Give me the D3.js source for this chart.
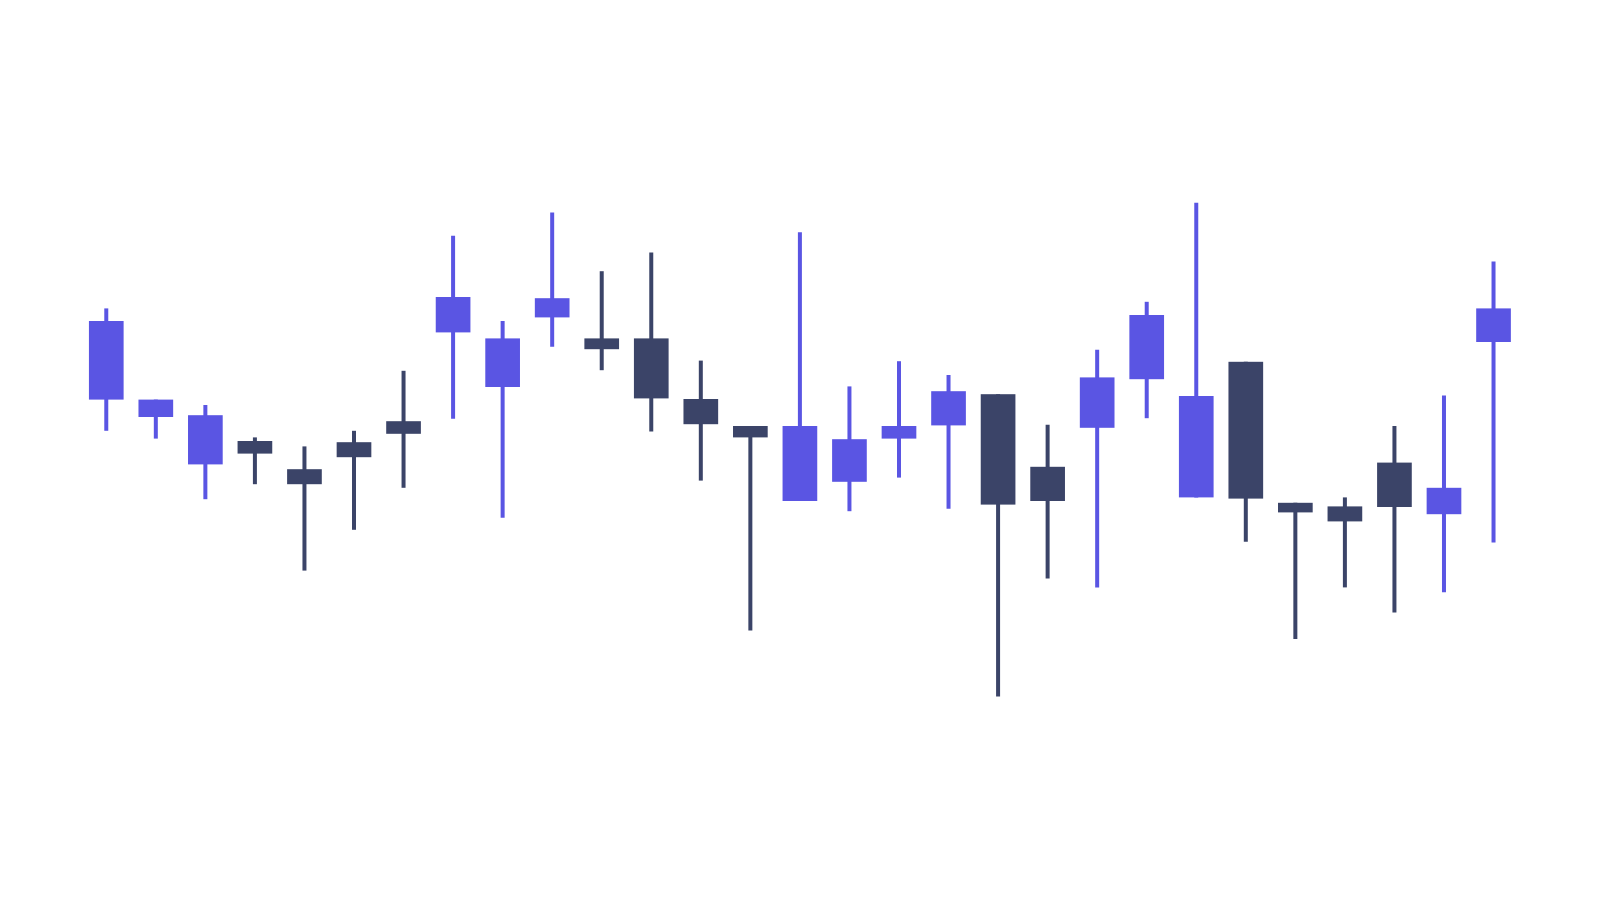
<!DOCTYPE html>
<html lang="en">
<head>
  <meta charset="UTF-8" />
  <title>Candlestick</title>
  <script src="https://d3js.org/d3.v7.min.js"></script>
  <style>
    html, body { margin: 0; padding: 0; background: #fff; }
    svg { display: block; }
  </style>
</head>
<body>
<svg width="1600" height="900"></svg>
<script>
const days  = d3.range(1, 30).map(d => "D" + d);
const open  = [58.4, 55.5, 47.6, 51.5, 46.8, 51.3, 54.8, 69.6, 60.5, 72.1, 68.6, 68.6, 58.5, 54.0, 41.5,
               44.7, 51.9, 54.1, 59.3, 47.2, 53.7, 61.8, 42.1, 64.7, 41.2, 40.6, 47.9, 39.3, 68.0];
const close = [71.5, 58.4, 55.8, 49.4, 44.3, 48.8, 52.7, 75.5, 68.6, 75.3, 66.8, 58.6, 54.3, 52.1, 54.0,
               51.8, 54.0, 59.8, 40.9, 41.5, 62.1, 72.5, 59.0, 41.9, 39.6, 38.1, 40.5, 43.7, 73.6];
const high  = [73.6, 58.4, 57.5, 52.1, 50.6, 53.2, 63.2, 85.7, 71.5, 89.6, 79.8, 82.9, 64.9, 54.0, 86.3,
               60.6, 64.8, 62.5, 59.3, 54.2, 66.7, 74.7, 91.2, 64.7, 41.2, 42.1, 54.0, 59.1, 81.4];
const low   = [53.2, 51.9, 41.8, 44.3, 29.9, 36.7, 43.7, 55.2, 38.7, 67.2, 63.3, 53.1, 44.9, 19.9, 41.5,
               39.8, 45.4, 40.2, 8.9, 28.6, 27.1, 55.3, 42.1, 34.7, 18.5, 27.1, 22.9, 26.3, 34.6];

const upColor = "#5a55e3", downColor = "#3b4468";

const svg = d3.select("svg");

const x = d3.scaleBand()
  .domain(days)
  .range([81.5, 1518.3])
  .paddingInner(0.3)
  .paddingOuter(0.15);

const y = d3.scaleLinear()
  .domain([0, 100])
  .range([750, 150]);

const data = days.map((d, i) => ({ day: d, o: open[i], c: close[i], h: high[i], l: low[i] }));
const color = d => d.c >= d.o ? upColor : downColor;

const candle = svg.append("g")
  .selectAll("g")
  .data(data)
  .join("g");

candle.append("line")
  .attr("x1", d => x(d.day) + x.bandwidth() / 2)
  .attr("x2", d => x(d.day) + x.bandwidth() / 2)
  .attr("y1", d => y(d.h))
  .attr("y2", d => y(d.l))
  .attr("stroke", color)
  .attr("stroke-width", 4);

candle.append("rect")
  .attr("x", d => x(d.day))
  .attr("width", x.bandwidth())
  .attr("y", d => y(Math.max(d.o, d.c)))
  .attr("height", d => Math.max(1, Math.abs(y(d.o) - y(d.c))))
  .attr("fill", color);
</script>
</body>
</html>
